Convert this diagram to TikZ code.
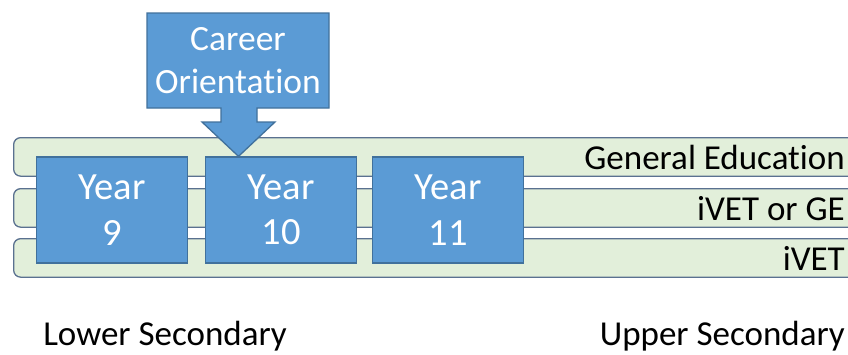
\documentclass[tikz,border=0pt]{standalone}
\usepackage{fontspec}
\setmainfont{Carlito}[Ligatures=NoCommon]
\definecolor{bandfill}{HTML}{E2EFDA}
\definecolor{bandline}{HTML}{5A7190}
\definecolor{boxfill}{HTML}{5B9BD5}
\definecolor{boxline}{HTML}{41719C}
\tikzset{
  band/.style={draw=bandline, fill=bandfill, line width=1.3pt, rounded corners=7pt,
    anchor=north west, inner sep=0pt, minimum width=900pt, minimum height=38.5pt},
  bandlabel/.style={anchor=base east, inner sep=0pt, font=\fontsize{35}{42}\selectfont},
  yearbox/.style={draw=boxline, fill=boxfill, line width=1.3pt, text=white, align=center,
    inner sep=0pt, minimum width=151pt, minimum height=106pt,
    font=\fontsize{38.5}{45.5}\selectfont},
  callout/.style={draw=boxline, fill=boxfill, line width=1.3pt, line join=miter},
  stagelabel/.style={inner sep=0pt, font=\fontsize{35}{42}\selectfont},
}
\begin{document}
\begin{tikzpicture}[x=1pt, y=-1pt]
\useasboundingbox (0,0) rectangle (848,354);
\clip (0,0) rectangle (848,354);
\fill[white] (0,0) rectangle (848,354);

% three horizontal pathway bands
\node[band] (band1) at (13,137) {};
\node[band] (band2) at (13,188) {};
\node[band] (band3) at (13,238) {};
\node[bandlabel] (ge)   at (845,169.5) {General Education};
\node[bandlabel] (ivge) at (845,220)   {iVET or GE};
\node[bandlabel] (ivet) at (845,270)   {iVET};

% school years
\node[yearbox] (y9)  at (112,210) {Year\\9};
\node[yearbox] (y10) at (281,210) {Year\\10};
\node[yearbox] (y11) at (448,210) {Year\\11};

% career orientation callout pointing down onto year 10
\coordinate (tip) at (y10.north -| 238.5,0);
\draw[callout] (147,13) -- (329,13) -- (329,108) -- (257,108) -- (257,122)
  -- (275,122) -- (tip) -- (202,122) -- (221,122) -- (221,108)
  -- (147,108) -- cycle;
\node[text=white, align=center, inner sep=0pt, font=\fontsize{35.5}{43}\selectfont]
  (career) at (238,60.5) {Career\\Orientation};

% stage labels
\node[stagelabel, anchor=base] (lower) at (165,345) {Lower Secondary};
\node[stagelabel, anchor=base east] (upper) at (845,345) {Upper Secondary};
\end{tikzpicture}
\end{document}
